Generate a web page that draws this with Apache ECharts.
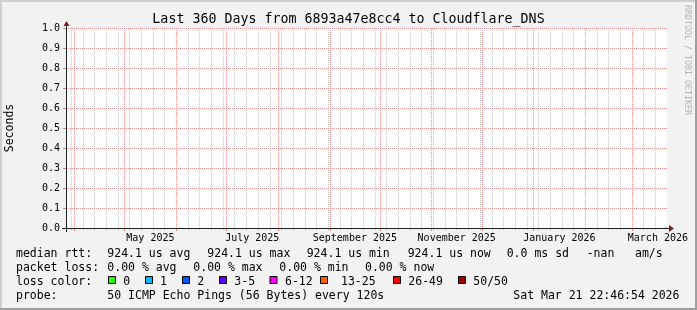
<!DOCTYPE html>
<html><head><meta charset="utf-8">
<script src="https://cdn.jsdelivr.net/npm/echarts@6/dist/echarts.min.js"></script>
<style>html,body{margin:0;padding:0;background:#f2f2f2}#c{width:697px;height:310px}</style>
</head><body><div id="c"></div>
<script>
// ---- chart content ----
const titleText = 'Last 360 Days from 6893a47e8cc4 to Cloudflare_DNS';
const yAxisName = 'Seconds';
const startTime = Date.UTC(2025, 2, 26, 22, 46, 54);
const endTime = Date.UTC(2026, 2, 21, 22, 46, 54);
const yMin = 0, yMax = 1, yStep = 0.1;
const monthStarts = ['2025-04-01','2025-05-01','2025-06-01','2025-07-01','2025-08-01','2025-09-01',
  '2025-10-01','2025-11-01','2025-12-01','2026-01-01','2026-02-01','2026-03-01'];
const labelMonths = ['2025-05','2025-07','2025-09','2025-11','2026-01','2026-03'];
const labelTexts = ['May 2025','July 2025','September 2025','November 2025','January 2026','March 2026'];
const firstSunday = '2025-03-30';
// median RTT (seconds) — constant 924.1 us
const medianTimes = [Date.UTC(2026, 2, 20, 22, 46, 54), Date.UTC(2026, 2, 21, 22, 46, 54)];
const medianSeconds = [0.0009241, 0.0009241];
// legend texts
const rttLabel = 'median rtt:';
const rttStats = ['924.1 us avg','924.1 us max','924.1 us min','924.1 us now','0.0 ms sd','-nan','am/s'];
const lossLabel = 'packet loss:';
const lossStats = ['0.00 % avg','0.00 % max','0.00 % min','0.00 % now'];
const lossColorLabel = 'loss color:';
const lossNames = ['0','1','2','3-5','6-12','13-25','26-49','50/50'];
const lossColors = ['#26ff00','#00b8ff','#0059ff','#5e00ff','#ff00fe','#ff5e00','#ff0000','#a10000'];
const probeLabel = 'probe:';
const probeText = '50 ICMP Echo Pings (56 Bytes) every 120s';
const dateText = 'Sat Mar 21 22:46:54 2026';
const watermark = 'RRDTOOL / TOBI OETIKER';

// ---- derived positions ----
const DAY = 86400000;
const monthTicks = monthStarts.map(s => Date.parse(s));
const weekTicks = [];
for (let t = Date.parse(firstSunday); t <= endTime; t += 7 * DAY) if (t >= startTime) weekTicks.push(t);
const labelPos = labelMonths.map(s => {
  const [y, m] = s.split('-').map(Number);
  return (Date.UTC(y, m - 1, 1) + Date.UTC(y, m, 1)) / 2;
});
const MONO = "'DejaVu Sans Mono', monospace";
const F = (sz) => sz + 'px ' + MONO;

// layout (pixels)
const rowY = [254.5, 268.5, 282.5, 296.5];
const rttX = [107.3, 207.3, 306.7, 407.7, 506.7, 586.7, 635];
const lossX = [107.3, 193.3, 279.3, 365];
const boxX = [108.5, 145.5, 182.5, 219.5, 270, 320.5, 393.5, 458.5];
const boxLabelX = [123.3, 160, 197.3, 234.3, 285, 341, 408.3, 473.3];

const graphics = [];
function txt(x, y, s, size) {
  graphics.push({type:'text', x:x, y:y, silent:true, z:10,
    style:{text:s, font:F(size), fill:'#000', textAlign:'left', textVerticalAlign:'middle'}});
}
txt(16, rowY[0], rttLabel, 11.5);
rttStats.forEach((s, i) => txt(rttX[i], rowY[0], s, 11.5));
txt(16, rowY[1], lossLabel, 11.5);
lossStats.forEach((s, i) => txt(lossX[i], rowY[1], s, 11.5));
txt(16, rowY[2], lossColorLabel, 11.5);
lossNames.forEach((s, i) => {
  graphics.push({type:'rect', silent:true, z:10, shape:{x:boxX[i], y:276.5, width:7, height:7},
    style:{fill:lossColors[i], stroke:'#000', lineWidth:1}});
  txt(boxLabelX[i], rowY[2], s, 11.5);
});
txt(16, rowY[3], probeLabel, 11.5);
txt(107.3, rowY[3], probeText, 11.5);
txt(513.3, rowY[3], dateText, 11.5);
// title
graphics.push({type:'text', x:348.5, y:19.5, silent:true, z:10,
  style:{text:titleText, font:F(13.3), fill:'#000', textAlign:'center', textVerticalAlign:'middle'}});
// watermark
graphics.push({type:'text', x:687, y:60, rotation:-Math.PI/2, silent:true,
  style:{text:watermark, font:F(8.3), fill:'#b4b4b4', textAlign:'center', textVerticalAlign:'middle'}});
// shade border
graphics.push({type:'rect', silent:true, shape:{x:0,y:0,width:697,height:2}, style:{fill:'#cfcfcf'}});
graphics.push({type:'rect', silent:true, shape:{x:0,y:0,width:2,height:310}, style:{fill:'#cfcfcf'}});
graphics.push({type:'rect', silent:true, shape:{x:695,y:0,width:2,height:310}, style:{fill:'#9e9e9e'}});
graphics.push({type:'rect', silent:true, shape:{x:0,y:308,width:697,height:2}, style:{fill:'#9e9e9e'}});
// axis extensions and arrows
graphics.push({type:'line', silent:true, z:10, shape:{x1:62,y1:228.5,x2:671,y2:228.5}, style:{stroke:'#1f1f1f',lineWidth:1}});
graphics.push({type:'line', silent:true, z:10, shape:{x1:66.5,y1:232,x2:66.5,y2:24}, style:{stroke:'#1f1f1f',lineWidth:1}});
graphics.push({type:'polygon', silent:true, z:11, shape:{points:[[63.5,26],[69.5,26],[66.5,21]]}, style:{fill:'#801f1f'}});
graphics.push({type:'polygon', silent:true, z:11, shape:{points:[[669,225],[669,232],[674,228.5]]}, style:{fill:'#801f1f'}});

const chart = echarts.init(document.getElementById('c'), null, {renderer:'canvas'});
const dotted = [1, 1];
chart.setOption({
  animation: false,
  backgroundColor: '#f2f2f2',
  grid: {left: 66, right: 30, top: 28, bottom: 82, show: true, backgroundColor: '#ffffff',
    borderWidth: 0, containLabel: false, outerBoundsMode: 'none'},
  xAxis: [
    { // weekly minor grid
      type: 'value', min: startTime, max: endTime, position: 'bottom', z: 1,
      axisLine: {show: false},
      axisTick: {show: true, length: 2, customValues: weekTicks, lineStyle: {color: '#bbbbbb'}},
      axisLabel: {show: false},
      splitLine: {show: true, lineStyle: {color: '#c6c6c6', width: 1, type: dotted}}
    },
    { // monthly major grid + labels
      type: 'value', min: startTime, max: endTime, position: 'bottom', z: 3,
      axisLine: {show: true, onZero: false, lineStyle: {color: '#1f1f1f', width: 1}},
      axisTick: {show: true, length: 3, customValues: monthTicks, lineStyle: {color: '#e58a8a'}},
      axisLabel: {show: true, customValues: labelPos, margin: 5,
        fontFamily: MONO, fontSize: 10, color: '#000',
        formatter: v => { const i = labelPos.findIndex(p => Math.abs(p - v) < 1000); return i >= 0 ? labelTexts[i] : ''; }},
      splitLine: {show: true, lineStyle: {color: '#eb9090', width: 1, type: dotted}}
    }
  ],
  yAxis: {
    type: 'value', min: yMin, max: yMax, interval: yStep, z: 2,
    name: yAxisName, nameLocation: 'middle', nameGap: 49.5, nameRotate: 90,
    nameTextStyle: {fontFamily: MONO, fontSize: 11.5, color: '#000'},
    axisLine: {show: true, lineStyle: {color: '#1f1f1f'}},
    axisTick: {show: true, length: 3, lineStyle: {color: '#999999'}},
    axisLabel: {margin: 6, fontFamily: MONO, fontSize: 10, color: '#000', formatter: v => v.toFixed(1)},
    splitLine: {show: true, lineStyle: {color: '#eb9090', width: 1, type: dotted}}
  },
  series: [{
    type: 'line', xAxisIndex: 1, yAxisIndex: 0, z: 0, symbol: 'none',
    data: medianTimes.map((t, i) => [t, medianSeconds[i]]),
    lineStyle: {color: lossColors[0], width: 1}
  }],
  graphic: graphics
});
</script></body></html>
